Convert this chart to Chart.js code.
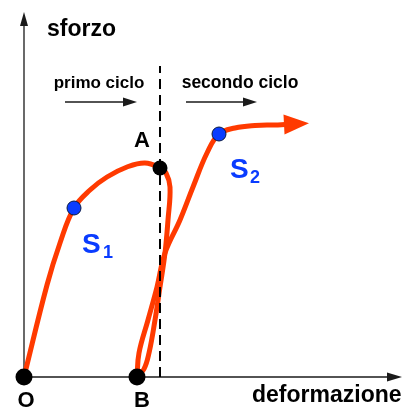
<!DOCTYPE html>
<html>
<head>
<meta charset="utf-8">
<script src="https://cdn.jsdelivr.net/npm/chart.js@4"></script>
<style>
  html, body { margin: 0; padding: 0; background: #fff; }
  canvas { display: block; }
</style>
</head>
<body>
<canvas id="chart" width="406" height="412"></canvas>
<script>
// deformazione (x) vs sforzo (y), arbitrary units
// first cycle: loading O -> A, then unloading A -> B
const cycle1X = [0, 2.3, 3.6, 5.0, 6.6, 8.3, 10.3, 12.1, 13.6, 14.2, 14.6, 14.4, 14.1, 13.6, 13.1, 12.5, 12.0, 11.3];
const cycle1Y = [0, 9.2, 13.4, 16.9, 18.7, 20.0, 21.0, 21.4, 20.9, 20.4, 19.0, 15.7, 12.4, 9.0, 5.7, 2.4, 0.8, 0];
// second cycle: reloading from B
const cycle2X = [11.3, 11.5, 12.4, 13.3, 14.1, 15.6, 16.9, 18.3, 19.5, 21.1, 23.1, 25.1, 26.1];
const cycle2Y = [0, 2.4, 5.7, 9.0, 12.4, 15.7, 19.0, 22.4, 24.3, 24.9, 25.15, 25.2, 25.25];

const keyNames = ['O', 'A', 'B'];
const keyX = [0, 13.6, 11.3];
const keyY = [0, 20.9, 0];

const limitNames = ['S1', 'S2'];
const limitX = [5.0, 19.5];
const limitY = [16.9, 24.3];

// axis extents and the little "cycle" arrows
const axisXEnd = 36.4;
const axisYEnd = 35.2;
const cycleArrowY = 27.5;
const cycleArrowsX = [[4.1, 10.0], [16.2, 22.0]];

const toPoints = (xs, ys) => xs.map((x, i) => ({ x: x, y: ys[i] }));

const RED = '#ff3a00';
const BLUE = '#0a3cff';
const FONT = '"Liberation Sans", Arial, Helvetica, sans-serif';

function line(points, extra) {
  return Object.assign({
    data: points,
    showLine: true,
    pointRadius: 0,
    borderColor: '#1a1a1a',
    borderWidth: 1.3,
    tension: 0,
    order: 3
  }, extra);
}

const datasets = [
  line([{ x: 0, y: 0 }, { x: 0, y: axisYEnd }], { arrowHead: { len: 13, half: 4 } }),
  line([{ x: 0, y: 0 }, { x: axisXEnd, y: 0 }], { arrowHead: { len: 14, half: 4.5 } }),
  line([{ x: cycleArrowsX[0][0], y: cycleArrowY }, { x: cycleArrowsX[0][1], y: cycleArrowY }],
    { borderWidth: 1.5, arrowHead: { len: 13, half: 4.5 } }),
  line([{ x: cycleArrowsX[1][0], y: cycleArrowY }, { x: cycleArrowsX[1][1], y: cycleArrowY }],
    { borderWidth: 1.5, arrowHead: { len: 13, half: 4.5 } }),
  line(toPoints(cycle1X, cycle1Y), { borderColor: RED, borderWidth: 5, tension: 0.4, order: 2, borderCapStyle: 'round' }),
  line(toPoints(cycle2X, cycle2Y), { borderColor: RED, borderWidth: 5, tension: 0.4, order: 2,
    arrowHead: { len: 24, half: 10, color: RED } }),
  // vertical through A
  line([{ x: keyX[1], y: 0 }, { x: keyX[1], y: 31.1 }], { borderColor: '#000', borderWidth: 2, borderDash: [10, 6], order: 1 }),
  {
    data: toPoints(keyX, keyY),
    showLine: false,
    pointRadius: [8.5, 7.5, 8.5],
    pointBackgroundColor: '#000',
    pointBorderColor: '#000',
    pointBorderWidth: 0,
    order: 0
  },
  {
    data: toPoints(limitX, limitY),
    showLine: false,
    pointRadius: 7,
    pointBackgroundColor: BLUE,
    pointBorderColor: '#0a1a40',
    pointBorderWidth: 1,
    order: 0
  }
];

// text placed in data units: [text, x, y, size, color, align]
const texts = [
  ['sforzo', 2.3, 34.1, 23, '#000', 'left'],
  ['primo ciclo', 7.5, 28.9, 17, '#000', 'center'],
  ['secondo ciclo', 21.6, 28.9, 17.5, '#000', 'center'],
  ['deformazione', 22.8, -2.5, 23, '#000', 'left'],
  [keyNames[0], 0.2, -3.0, 22, '#000', 'center'],
  [keyNames[2], 11.8, -3.0, 22, '#000', 'center'],
  [keyNames[1], 11.8, 23.0, 22, '#000', 'center'],
  ['S', 5.8, 12.4, 28, BLUE, 'left'],
  ['1', 7.9, 11.9, 18, BLUE, 'left'],
  ['S', 20.6, 19.9, 28, BLUE, 'left'],
  ['2', 22.6, 19.4, 18, BLUE, 'left']
];

const decorations = {
  id: 'decorations',
  afterDatasetsDraw(chart) {
    const ctx = chart.ctx;
    const xs = chart.scales.x, ys = chart.scales.y;
    chart.data.datasets.forEach((ds, i) => {
      if (!ds.arrowHead) return;
      const pts = chart.getDatasetMeta(i).data;
      const a = pts[pts.length - 2], b = pts[pts.length - 1];
      const ang = Math.atan2(b.y - a.y, b.x - a.x);
      const h = ds.arrowHead;
      ctx.save();
      ctx.translate(b.x, b.y);
      ctx.rotate(ang);
      ctx.beginPath();
      ctx.moveTo(-1, -h.half);
      ctx.lineTo(h.len, 0);
      ctx.lineTo(-1, h.half);
      ctx.closePath();
      ctx.fillStyle = h.color || ds.borderColor;
      ctx.fill();
      ctx.restore();
    });
    ctx.save();
    ctx.textBaseline = 'alphabetic';
    texts.forEach(([t, x, y, size, color, align]) => {
      ctx.font = 'bold ' + size + 'px ' + FONT;
      ctx.fillStyle = color;
      ctx.textAlign = align;
      ctx.fillText(t, xs.getPixelForValue(x), ys.getPixelForValue(y));
    });
    ctx.restore();
  }
};

new Chart(document.getElementById('chart'), {
  type: 'scatter',
  data: { datasets: datasets },
  options: {
    responsive: false,
    animation: false,
    layout: { padding: 0, autoPadding: false },
    plugins: { legend: { display: false }, tooltip: { enabled: false } },
    scales: {
      x: { type: 'linear', min: -2.4, max: 38.2, display: false },
      y: { type: 'linear', min: -3.5, max: 37.7, display: false }
    }
  },
  plugins: [decorations]
});
</script>
</body>
</html>
